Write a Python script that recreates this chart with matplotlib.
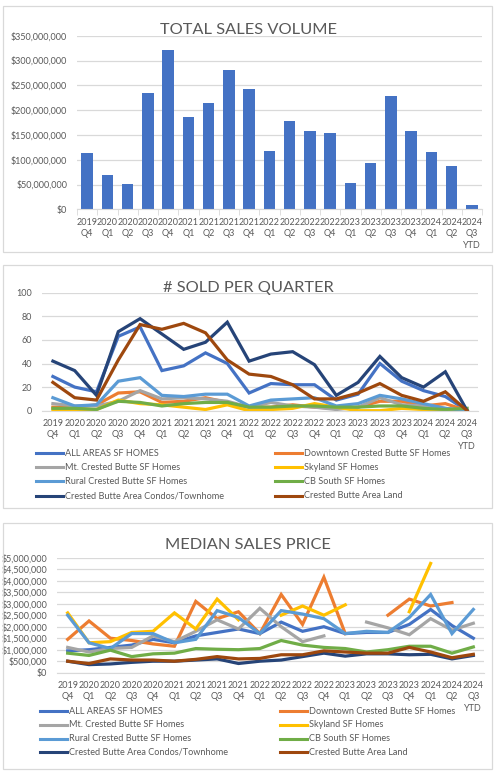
import numpy as np
import matplotlib
matplotlib.use("Agg")
import matplotlib.pyplot as plt
from matplotlib.patches import Rectangle
from matplotlib.lines import Line2D
from matplotlib.ticker import FuncFormatter, MultipleLocator

plt.rcParams['font.family'] = ['Lato', 'DejaVu Sans']

W, H = 494, 771
nan = np.nan

quarters = ["2019\nQ4", "2020\nQ1", "2020\nQ2", "2020\nQ3", "2020\nQ4",
            "2021\nQ1", "2021\nQ2", "2021\nQ3", "2021\nQ4",
            "2022\nQ1", "2022\nQ2", "2022\nQ3", "2022\nQ4",
            "2023\nQ1", "2023\nQ2", "2023\nQ3", "2023\nQ4",
            "2024\nQ1", "2024\nQ2", "2024\nQ3\nYTD"]

# total sales volume, $ millions
volume = [114, 69, 51, 235, 322, 186, 215, 280, 243, 117,
          178, 157, 153, 54, 93, 228, 157, 115, 88, 8]

series_names = ["ALL AREAS SF HOMES", "Downtown Crested Butte SF Homes",
                "Mt. Crested Butte SF Homes", "Skyland SF Homes",
                "Rural Crested Butte SF Homes", "CB South SF Homes",
                "Crested Butte Area Condos/Townhome", "Crested Butte Area Land"]
series_colors = ["#4472C4", "#ED7D31", "#A5A5A5", "#FFC000",
                 "#5B9BD5", "#70AD47", "#264478", "#9E480E"]

# number sold per quarter
sold_all = [29, 20, 16, 63, 71, 34, 38, 49, 40, 15, 23, 22, 22, 9, 14, 40, 25, 17, 12, 0]
sold_downtown = [3, 3, 5, 15, 16, 7, 8, 11, 7, 3, 3, 5, 3, 2, 3, 8, 8, 4, 6, 0]
sold_mtcb = [6, 4, 4, 8, 17, 10, 11, 10, 8, 3, 7, 4, 3, 1, 3, 11, 5, 4, 2, 0]
sold_skyland = [1, 1, 1, 9, 6, 5, 3, 1, 5, 0, 1, 2, 6, 3, 0, 0, 2, 1, 1, 0]
sold_rural = [11, 4, 5, 25, 28, 13, 12, 14, 14, 4, 9, 10, 11, 4, 6, 13, 10, 6, 2, 0]
sold_cbsouth = [2, 2, 1, 8, 7, 4, 6, 7, 7, 3, 3, 4, 4, 3, 3, 4, 4, 2, 1, 2]
sold_condos = [42, 34, 13, 67, 78, 65, 52, 58, 75, 42, 48, 50, 39, 13, 24, 46, 28, 20, 33, 0]
sold_land = [24, 11, 9, 43, 73, 69, 74, 66, 43, 31, 29, 22, 10, 10, 15, 23, 13, 8, 16, 0]

# median sales price, $ millions
price_all = [0.95, 1.0, 1.1, 1.2, 1.45, 1.3, 1.6, 1.75, 1.9, 1.7,
             2.2, 1.8, 2.0, 1.7, 1.75, 1.75, 2.1, 2.75, 2.05, 1.5]
price_downtown = [1.45, 2.25, 1.5, 1.4, 1.25, 1.15, 3.1, 2.35, 2.65, 1.7,
                  3.4, 2.1, 4.15, 1.7, nan, 2.5, 3.2, 2.9, 3.05, nan]
price_mtcb = [1.1, 0.9, 1.05, 1.1, 1.6, 1.35, 1.8, 2.3, 1.9, 2.8,
              2.0, 1.35, 1.6, nan, 2.2, 1.95, 1.65, 2.35, 1.85, 2.15]
price_skyland = [2.6, 1.3, 1.35, 1.75, 1.8, 2.6, 1.9, 3.2, 2.3, nan,
                 2.5, 2.9, 2.5, 2.95, nan, nan, 2.65, 4.75, nan, nan]
price_rural = [2.5, 1.3, 1.05, 1.7, 1.7, 1.3, 1.45, 2.7, 2.4, 1.7,
               2.7, 2.55, 2.35, 1.7, 1.8, 1.75, 2.4, 3.4, 1.7, 2.75]
price_cbsouth = [0.85, 0.75, 0.98, 0.7, 0.82, 0.85, 1.05, 1.02, 1.0, 1.05,
                 1.4, 1.2, 1.1, 1.05, 0.9, 1.0, 1.15, 1.15, 0.85, 1.12]
price_condos = [0.5, 0.35, 0.38, 0.45, 0.5, 0.5, 0.55, 0.6, 0.4, 0.5,
                0.55, 0.7, 0.85, 0.72, 0.82, 0.82, 0.78, 0.8, 0.6, 0.75]
price_land = [0.5, 0.4, 0.6, 0.55, 0.55, 0.5, 0.58, 0.7, 0.6, 0.62,
              0.78, 0.78, 0.95, 0.9, 0.85, 0.85, 1.1, 0.9, 0.65, 0.8]

sold = [sold_all, sold_downtown, sold_mtcb, sold_skyland,
        sold_rural, sold_cbsouth, sold_condos, sold_land]
prices = [price_all, price_downtown, price_mtcb, price_skyland,
          price_rural, price_cbsouth, price_condos, price_land]

TXT = "#595959"
GRID = "#D9D9D9"

fig = plt.figure(figsize=(W / 100, H / 100), dpi=100)


def px_axes(l, t, r, b):
    return fig.add_axes([l / W, 1 - b / H, (r - l) / W, (b - t) / H])


def panel_box(t, b):
    fig.add_artist(Rectangle((3 / W, 1 - b / H), (W - 5) / W, (b - t) / H,
                             transform=fig.transFigure, fill=False,
                             ec=GRID, lw=0.9))


def style_axes(ax):
    for s in ["top", "right", "left"]:
        ax.spines[s].set_visible(False)
    ax.spines["bottom"].set_color(GRID)
    ax.grid(axis="y", color=GRID, lw=0.9)
    ax.set_axisbelow(True)
    ax.tick_params(axis="y", length=0, colors=TXT, labelsize=6.5, pad=7)
    ax.tick_params(axis="x", length=0, colors=TXT, labelsize=6.5, pad=6)
    ax.set_xlim(-0.5, len(quarters) - 0.5)
    ax.set_xticks(range(len(quarters)))
    ax.set_xticklabels(quarters, linespacing=1.35)


def legend_rows(top, x1, x2, step):
    for i, (name, col) in enumerate(zip(series_names, series_colors)):
        x0 = x1 if i % 2 == 0 else x2
        y = 1 - (top + (i // 2) * step) / H
        fig.add_artist(Line2D([x0 / W, (x0 + 27) / W], [y, y],
                              transform=fig.transFigure, color=col, lw=2.2))
        fig.text((x0 + 29) / W, y, name, color=TXT, fontsize=6.6, va="center")


def title(y, s):
    fig.text(248 / W, 1 - y / H, s, ha="center", va="center",
             fontsize=11.8, color=TXT)


x = np.arange(len(quarters))
money = FuncFormatter(lambda v, p: "${:,.0f}".format(v * 1e6))

# panel 1: total sales volume
panel_box(6, 252)
ax1 = px_axes(77, 35.7, 482, 209.3)
style_axes(ax1)
ax1.bar(x, volume, width=0.58, color="#4472C4")
ax1.set_ylim(0, 350)
ax1.yaxis.set_major_locator(MultipleLocator(50))
ax1.yaxis.set_major_formatter(money)
ax1.set_xticks(np.arange(-0.5, len(quarters)), minor=True)
ax1.tick_params(axis="x", which="minor", length=4, color=GRID)
title(30, "TOTAL SALES VOLUME")

# panel 2: number sold
panel_box(265, 508)
ax2 = px_axes(42, 292.7, 478, 410.7)
style_axes(ax2)
for vals, col in zip(sold, series_colors):
    ax2.plot(x, vals, color=col, lw=2.3, solid_joinstyle="miter")
ax2.set_ylim(0, 100)
ax2.yaxis.set_major_locator(MultipleLocator(20))
title(288, "# SOLD PER QUARTER")
legend_rows(453, 36, 275, 14.2)

# panel 3: median sales price
panel_box(523, 769)
ax3 = px_axes(57, 557.7, 484, 672.7)
style_axes(ax3)
for vals, col in zip(prices, series_colors):
    ax3.plot(x, vals, color=col, lw=2.3, solid_joinstyle="miter")
ax3.set_ylim(0, 5)
ax3.yaxis.set_major_locator(MultipleLocator(0.5))
ax3.yaxis.set_major_formatter(money)
title(545, "MEDIAN SALES PRICE")
legend_rows(711, 40, 280, 13.8)

fig.savefig("out.png", dpi=100)
